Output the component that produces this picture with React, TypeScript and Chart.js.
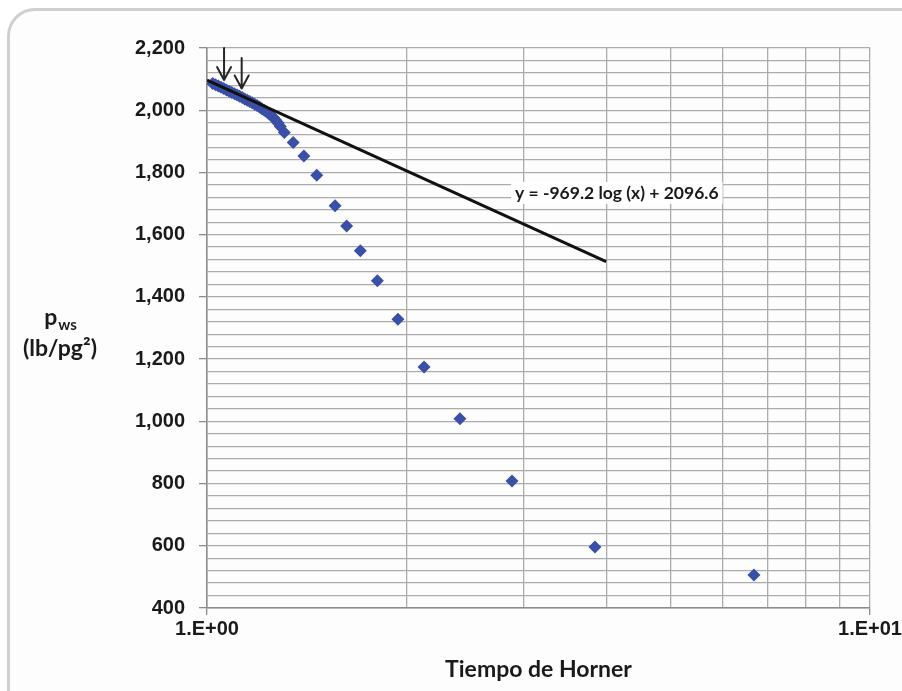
import React, { useEffect, useRef } from 'react';
import { Chart, registerables } from 'chart.js';

Chart.register(...registerables);

// Horner time (dimensionless) and shut-in pressure pws (lb/pg²)
const hornerTime = [
  1.02, 1.03, 1.04, 1.05, 1.06, 1.07, 1.08, 1.09, 1.1, 1.11, 1.12, 1.13, 1.14, 1.15,
  1.16, 1.17, 1.18, 1.19, 1.2, 1.21, 1.22, 1.23, 1.24, 1.25, 1.26, 1.27, 1.28, 1.29,
  1.308, 1.349, 1.4, 1.464, 1.56, 1.624, 1.703, 1.807, 1.941, 2.125, 2.407, 2.884,
  3.847, 6.683,
];
const shutInPressure = [
  2086, 2082, 2078, 2074, 2070, 2065, 2061, 2057, 2053, 2049, 2045, 2041, 2036, 2032,
  2028, 2024, 2019, 2015, 2010, 2005, 2000, 1995, 1989, 1983, 1976, 1968, 1959, 1948,
  1928, 1896, 1853, 1791, 1693, 1628, 1548, 1452, 1328, 1175, 1008, 808,
  596, 506,
];

// Semilog straight line: y = -969.2 log(x) + 2096.6, fitted over 1 <= x <= 4
const trendSlope = -969.2;
const trendIntercept = 2096.6;
const trendSpan = [1, 4];
const trendLabel = 'y = -969.2 log (x) + 2096.6';

// Axis ticks
const xTickValues = [1, 2, 3, 4, 5, 6, 7, 8, 9, 10];
const xTickLabels = ['1.E+00', '', '', '', '', '', '', '', '', '1.E+01'];
const yMin = 400;
const yMax = 2200;
const yMinorStep = 40;
const yMajorStep = 200;

// Arrow markers pointing at the start of the straight-line segment
const arrowX = [1.061, 1.128];
const arrowFrom = [2200, 2168];
const arrowTo = [2097, 2070];

// Anchor of the equation label (data coordinates)
const labelAnchorX = 2.915;
const labelAnchorY = 1734;

const pointBlue = '#3a4fa6';
const gridGray = '#acacac';
const textDark = '#1a1a1a';

const overlayPlugin = {
  id: 'hornerOverlay',
  afterDatasetsDraw(chart: any) {
    const { ctx } = chart;
    const xs = chart.scales.x;
    const ys = chart.scales.y;
    ctx.save();

    // arrows
    ctx.strokeStyle = '#262626';
    ctx.lineWidth = 2;
    ctx.lineCap = 'round';
    ctx.lineJoin = 'round';
    arrowX.forEach((xv, i) => {
      const px = xs.getPixelForValue(xv);
      const top = ys.getPixelForValue(arrowFrom[i]);
      const tip = ys.getPixelForValue(arrowTo[i]);
      ctx.beginPath();
      ctx.moveTo(px, top);
      ctx.lineTo(px, tip);
      ctx.moveTo(px - 7, tip - 13);
      ctx.lineTo(px, tip);
      ctx.lineTo(px + 7, tip - 13);
      ctx.stroke();
    });

    // equation label on a white box
    ctx.font = 'bold 17.5px Lato';
    const lx = xs.getPixelForValue(labelAnchorX);
    const ly = ys.getPixelForValue(labelAnchorY);
    const tw = ctx.measureText(trendLabel).width;
    ctx.fillStyle = '#ffffff';
    ctx.fillRect(lx - 4, ly - 11, tw + 8, 22);
    ctx.fillStyle = textDark;
    ctx.textAlign = 'left';
    ctx.textBaseline = 'middle';
    ctx.fillText(trendLabel, lx, ly);

    // y-axis title: p_ws (lb/pg²)
    ctx.textBaseline = 'alphabetic';
    ctx.font = 'bold 23px Lato';
    const pw = ctx.measureText('p').width;
    ctx.font = 'bold 15px Lato';
    const sw = ctx.measureText('ws').width;
    const cx = 60;
    const start = cx - (pw + sw) / 2;
    ctx.font = 'bold 23px Lato';
    ctx.fillText('p', start, 325);
    ctx.font = 'bold 15px Lato';
    ctx.fillText('ws', start + pw + 1, 330);
    ctx.font = 'bold 23px Lato';
    ctx.textAlign = 'center';
    ctx.fillText('(lb/pg²)', cx, 356);

    ctx.restore();
  },
};

export default function App() {
  const canvasRef = useRef<HTMLCanvasElement>(null);

  useEffect(() => {
    const canvas = canvasRef.current;
    if (!canvas) return;

    const trendPoints = trendSpan.map((x) => ({ x, y: trendIntercept + trendSlope * Math.log10(x) }));
    const pressurePoints = hornerTime.map((x, i) => ({ x, y: shutInPressure[i] }));

    const chart = new Chart(canvas, {
      type: 'scatter',
      data: {
        datasets: [
          {
            label: 'Recta semilog',
            data: trendPoints,
            showLine: true,
            borderColor: '#111111',
            borderWidth: 3,
            pointRadius: 0,
            order: 0,
          },
          {
            label: 'pws',
            data: pressurePoints,
            pointStyle: 'rectRot',
            pointRadius: 6.5,
            backgroundColor: pointBlue,
            borderColor: pointBlue,
            borderWidth: 0,
            order: 1,
          },
        ],
      },
      options: {
        responsive: false,
        animation: false,
        devicePixelRatio: 1,
        layout: { padding: { left: 0, right: 32, top: 48, bottom: 0 } },
        plugins: {
          legend: { display: false },
          tooltip: { enabled: false },
        },
        scales: {
          x: {
            type: 'logarithmic',
            min: 1,
            max: 10,
            afterBuildTicks: (scale: any) => {
              scale.ticks = xTickValues.map((value) => ({ value }));
            },
            afterFit: (scale: any) => {
              scale.height = 83;
              scale.paddingLeft = 0;
              scale.paddingRight = 0;
            },
            ticks: {
              autoSkip: false,
              maxRotation: 0,
              padding: 2,
              color: textDark,
              font: { family: 'Liberation Sans', weight: 'bold', size: 20 },
              callback: (_v: any, index: number) => xTickLabels[index],
            },
            grid: {
              color: gridGray,
              lineWidth: 1.3,
              tickLength: 7,
              tickColor: (ctx: any) => (xTickLabels[ctx.index] ? '#8c8c8c' : 'rgba(0,0,0,0)'),
            },
            border: { color: '#8c8c8c', width: 1.5 },
            title: {
              display: true,
              text: 'Tiempo de Horner',
              color: textDark,
              font: { family: 'Lato', weight: 'bold', size: 23 },
              padding: { top: 0, bottom: 8 },
            },
          },
          y: {
            type: 'linear',
            min: yMin,
            max: yMax,
            afterFit: (scale: any) => {
              scale.width = 207;
              scale.paddingTop = 0;
              scale.paddingBottom = 0;
            },
            ticks: {
              stepSize: yMinorStep,
              autoSkip: false,
              padding: 14,
              color: textDark,
              font: { family: 'Liberation Sans', weight: 'bold', size: 20 },
              callback: (v: any) => (Number(v) % yMajorStep === 0 ? Number(v).toLocaleString('en-US') : ''),
            },
            grid: {
              color: gridGray,
              lineWidth: 1.3,
              tickLength: 8,
              tickColor: (ctx: any) =>
                ctx.tick && ctx.tick.value % yMajorStep === 0 ? '#8c8c8c' : 'rgba(0,0,0,0)',
            },
            border: { color: '#8c8c8c', width: 1.5 },
          },
        },
      },
      plugins: [overlayPlugin],
    } as any);

    return () => chart.destroy();
  }, []);

  return (
    <div
      style={{
        position: 'fixed',
        left: 0,
        top: 0,
        width: 902,
        height: 691,
        overflow: 'hidden',
        background: '#ffffff',
      }}
    >
      <div
        style={{
          position: 'absolute',
          left: 7,
          top: 8,
          width: 980,
          height: 780,
          border: '3px solid #cfcfcf',
          borderRadius: 28,
          background: '#fdfdfd',
        }}
      />
      <canvas
        ref={canvasRef}
        width={902}
        height={691}
        style={{ position: 'absolute', left: 0, top: 0, width: 902, height: 691 }}
      />
    </div>
  );
}
